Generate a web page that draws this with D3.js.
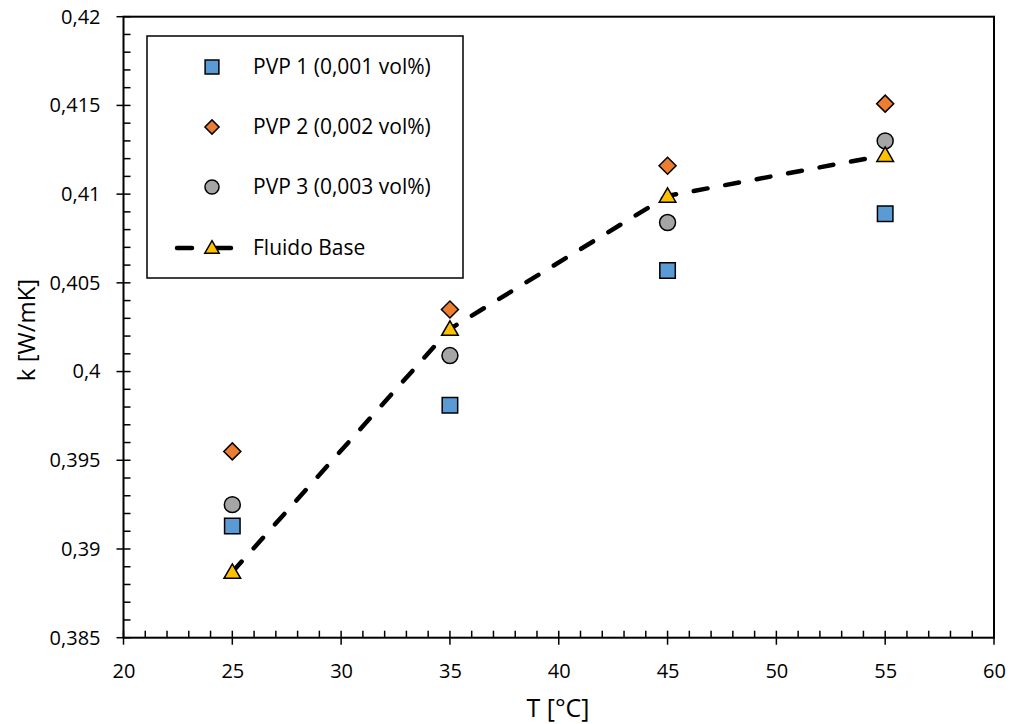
<!DOCTYPE html>
<html><head><meta charset="utf-8">
<script src="https://cdn.jsdelivr.net/npm/d3@7"></script>
<style>body{margin:0;background:#fff}svg{display:block}</style>
</head><body>
<svg id="c" width="1011" height="724"></svg>
<script>
const temps = [25, 35, 45, 55];
const pvp1 = [0.3913, 0.3981, 0.4057, 0.4089];
const pvp2 = [0.3955, 0.4035, 0.4116, 0.4151];
const pvp3 = [0.3925, 0.4009, 0.4084, 0.4130];
const base = [0.3887, 0.4024, 0.4099, 0.4122];
const xTicks = [20, 25, 30, 35, 40, 45, 50, 55, 60];
const yTicks = [0.385, 0.39, 0.395, 0.4, 0.405, 0.41, 0.415, 0.42];
const seriesNames = ["PVP 1 (0,001 vol%)", "PVP 2 (0,002 vol%)", "PVP 3 (0,003 vol%)", "Fluido Base"];

const FONT = "'Open Sans', 'Liberation Sans', sans-serif";
const svg = d3.select("#c");
const L = 123.5, R = 994, T = 16.7, B = 637.7;
const x = d3.scaleLinear().domain([20, 60]).range([L, R]);
const y = d3.scaleLinear().domain([0.385, 0.42]).range([B, T]);
const fmt = d => String(+d.toFixed(3)).replace(".", ",");

// frame
svg.append("rect").attr("x", L).attr("y", T).attr("width", R - L).attr("height", B - T)
  .attr("fill", "none").attr("stroke", "#000").attr("stroke-width", 2);

// minor ticks
const xMinor = d3.range(20, 60.001, 1).filter(v => v % 5 !== 0);
const yMinor = d3.range(0, 35).map(i => 0.385 + i * 0.001).filter((v, i) => i % 5 !== 0);
svg.append("g").selectAll("line").data(xMinor).join("line")
  .attr("x1", d => x(d)).attr("x2", d => x(d)).attr("y1", B).attr("y2", B - 7)
  .attr("stroke", "#000").attr("stroke-width", 1.5);
svg.append("g").selectAll("line").data(yMinor).join("line")
  .attr("y1", d => y(d)).attr("y2", d => y(d)).attr("x1", L).attr("x2", L + 7)
  .attr("stroke", "#000").attr("stroke-width", 1.5);

// major ticks via axes
const xAxis = svg.append("g").attr("transform", `translate(0,${B})`)
  .call(d3.axisBottom(x).tickValues(xTicks).tickSize(0).tickPadding(26).tickFormat(d => d));
xAxis.select(".domain").remove();
xAxis.selectAll("text").attr("font-family", FONT).attr("font-size", 20).attr("fill", "#000");
svg.append("g").selectAll("line").data(xTicks).join("line")
  .attr("x1", d => x(d)).attr("x2", d => x(d)).attr("y1", B - 7).attr("y2", B + 7)
  .attr("stroke", "#000").attr("stroke-width", 1.5);

const yAxis = svg.append("g").attr("transform", `translate(${L},0)`)
  .call(d3.axisLeft(y).tickValues(yTicks).tickSize(0).tickPadding(23).tickFormat(fmt));
yAxis.select(".domain").remove();
yAxis.selectAll("text").attr("font-family", FONT).attr("font-size", 20).attr("fill", "#000");
svg.append("g").selectAll("line").data(yTicks).join("line")
  .attr("y1", d => y(d)).attr("y2", d => y(d)).attr("x1", L - 7).attr("x2", L + 7)
  .attr("stroke", "#000").attr("stroke-width", 1.5);

// axis titles
svg.append("text").attr("x", 558).attr("y", 717).attr("text-anchor", "middle")
  .attr("font-family", FONT).attr("font-size", 25).text("T [°C]");
svg.append("text").attr("transform", `translate(35,330) rotate(-90)`).attr("text-anchor", "middle")
  .attr("font-family", FONT).attr("font-size", 24).text("k [W/mK]");

// base line
const line = d3.line().x((d, i) => x(temps[i])).y(d => y(d));
svg.append("path").datum(base).attr("d", line).attr("fill", "none")
  .attr("stroke", "#000").attr("stroke-width", 4.5).attr("stroke-dasharray", "14,18").attr("stroke-linecap", "round");

function shape(kind, s) {
  const t = {square: d3.symbolSquare, diamond: d3.symbolSquare, circle: d3.symbolCircle, triangle: d3.symbolTriangle}[kind];
  return d3.symbol().type(t).size(s)();
}
const markers = [
  {kind: "square", size: 240, lsize: 190, color: "#5B9BD5", vals: pvp1},
  {kind: "diamond", size: 145, lsize: 100, color: "#ED7D31", vals: pvp2},
  {kind: "circle", size: 200, lsize: 155, color: "#A5A5A5", vals: pvp3},
  {kind: "triangle", size: 120, lsize: 90, color: "#FFC000", vals: base}
];
markers.forEach(m => {
  const rot = m.kind === "diamond" ? " rotate(45)" : "";
  const dy = m.kind === "triangle" ? 1.5 : 0;
  svg.append("g").selectAll("path").data(m.vals).join("path")
    .attr("transform", (d, i) => `translate(${x(temps[i])},${y(d) + dy})${rot}`)
    .attr("d", shape(m.kind, m.size)).attr("fill", m.color).attr("stroke", "#000").attr("stroke-width", 1.5);
});

// legend
const lg = svg.append("g");
lg.append("rect").attr("x", 147).attr("y", 36).attr("width", 316).attr("height", 242)
  .attr("fill", "#fff").attr("stroke", "#000").attr("stroke-width", 1.5);
const rowsY = [67, 127, 187, 248];
lg.append("line").attr("x1", 177).attr("x2", 231).attr("y1", rowsY[3]).attr("y2", rowsY[3])
  .attr("stroke", "#000").attr("stroke-width", 4.5).attr("stroke-dasharray", "15,24").attr("stroke-linecap", "round");
seriesNames.forEach((n, i) => {
  const m = markers[i];
  const rot = m.kind === "diamond" ? " rotate(45)" : "";
  const dy = m.kind === "triangle" ? 1 : 0;
  lg.append("path").attr("transform", `translate(212,${rowsY[i] + dy})${rot}`).attr("d", shape(m.kind, m.lsize))
    .attr("fill", m.color).attr("stroke", "#000").attr("stroke-width", 1.5);
  lg.append("text").attr("x", 253).attr("y", rowsY[i]).attr("dy", "0.35em")
    .attr("font-family", FONT).attr("font-size", 21).text(n);
});
</script>
</body></html>
